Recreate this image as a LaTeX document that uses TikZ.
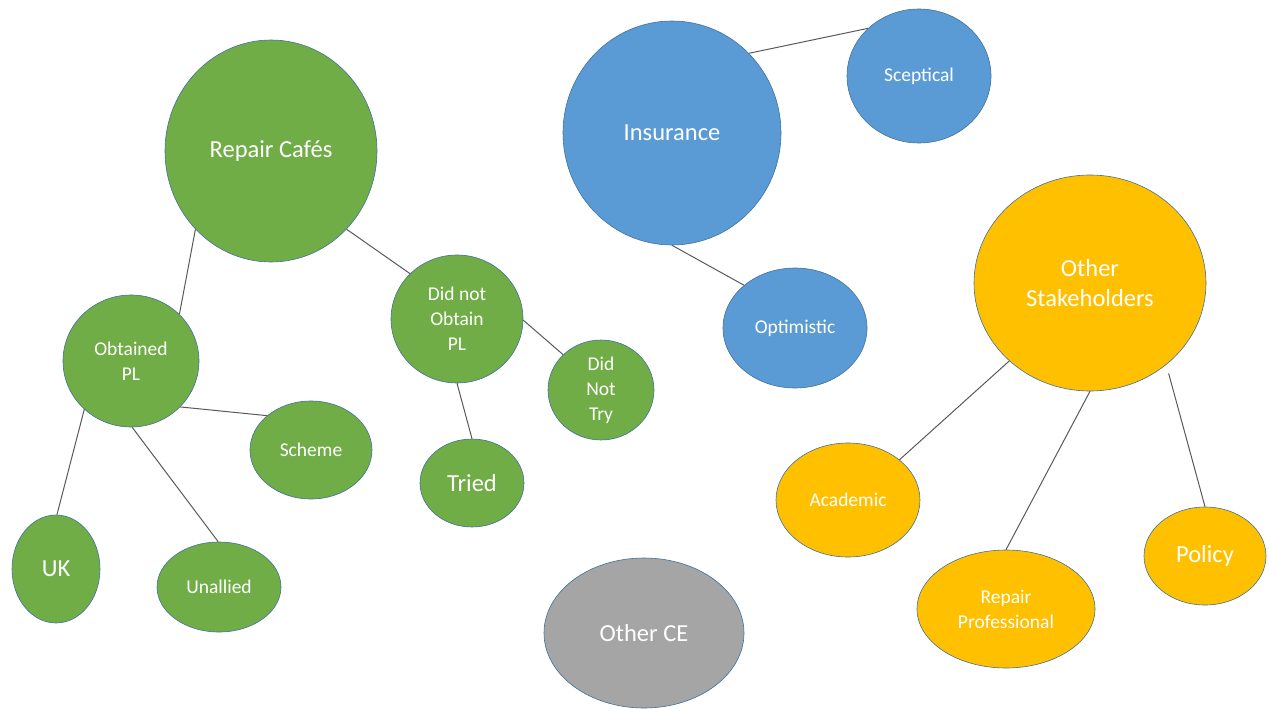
\documentclass[tikz,border=0pt]{standalone}
\usepackage{fontspec}
\setmainfont{Carlito}
\usetikzlibrary{shapes.geometric}
\definecolor{cgreen}{HTML}{70AD47}
\definecolor{cblue}{HTML}{5B9BD5}
\definecolor{cgold}{HTML}{FFC000}
\definecolor{cgray}{HTML}{A5A5A5}
\definecolor{cedge}{HTML}{41719C}
\definecolor{cline}{HTML}{595959}
\tikzset{
  bubble/.style={ellipse, draw=cedge, line width=0.6pt, inner sep=0pt, text=white, align=center},
  big/.style={font=\fontsize{24.5}{30}\selectfont},
  small/.style={font=\fontsize{19.5}{25}\selectfont},
  link/.style={draw=cline, line width=1pt},
}
\newcommand{\bub}[7]{\node[bubble,#1,fill=#2,minimum width=#5pt,minimum height=#6pt] (#7) at (#3,#4)}
\begin{document}
\begin{tikzpicture}[x=1pt,y=-1pt]
\useasboundingbox (0,0) rectangle (1269,709);
% green
\bub{big}{cgreen}{271}{151}{212}{222}{rc} {Repair Cafés};
\bub{small}{cgreen}{131}{361}{136}{132}{opl} {Obtained\\PL};
\bub{small}{cgreen}{311}{450}{122}{98}{sch} {Scheme};
\bub{big}{cgreen}{56}{569}{88}{108}{uk} {UK};
\bub{small}{cgreen}{219}{587}{124}{90}{una} {Unallied};
\bub{small}{cgreen}{457}{319}{132}{128}{dno} {Did not\\Obtain\\PL};
\bub{small}{cgreen}{601}{390}{106}{100}{dnt} {Did\\Not\\Try};
\bub{big}{cgreen}{472}{483}{104}{88}{tri} {Tried};
% blue
\bub{big}{cblue}{672}{133}{218}{224}{ins} {Insurance};
\bub{small}{cblue}{919}{76}{144}{134}{sce} {Sceptical};
\bub{small}{cblue}{795}{328}{144}{120}{opt} {Optimistic};
% gold
\bub{big}{cgold}{1090}{283}{232}{216}{os} {Other\\Stakeholders};
\bub{small}{cgold}{848}{500}{144}{114}{aca} {Academic};
\bub{small}{cgold}{1006}{609}{178}{118}{rp} {Repair\\Professional};
\bub{big}{cgold}{1205}{556}{122}{98}{pol} {Policy};
% gray
\bub{big}{cgray}{644}{633}{200}{150}{oce} {Other CE};
% connectors
\draw[link] (rc.226) -- (opl.44);
\draw[link] (rc.-46) -- (dno.136);
\draw[link] (opl.-43) -- (sch.142);
\draw[link] (opl.-134) -- (uk.89);
\draw[link] (opl.-89) -- (una.91);
\draw[link] (dno.-1) -- (dnt.137);
\draw[link] (dno.-90) -- (tri.90);
\draw[link] (ins.46) -- (sce.137);
\draw[link] (ins.-90) -- (opt.140);
\draw[link] (os.-136) -- (aca.38);
\draw[link] (os.-90) -- (rp.90);
\draw[link, shorten <=9pt] (os.-47) -- (pol.90);
\end{tikzpicture}
\end{document}
